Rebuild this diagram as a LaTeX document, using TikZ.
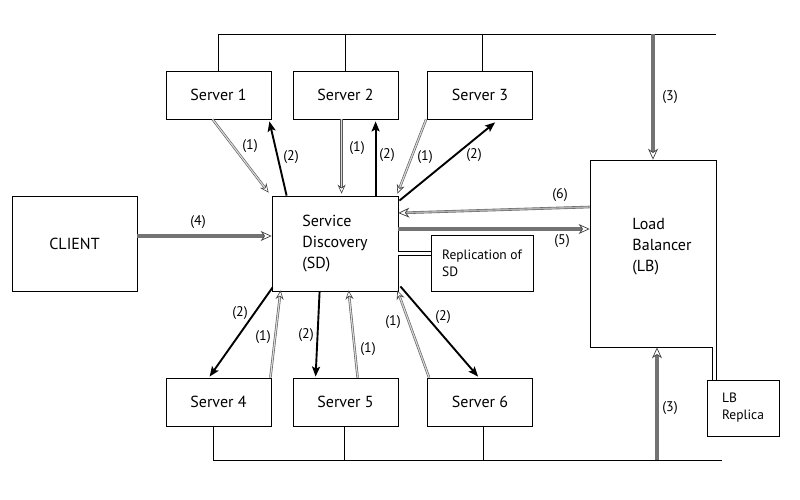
\documentclass[tikz,border=0pt]{standalone}
\usepackage{fontspec}
\setmainfont{PT Sans}
\usetikzlibrary{arrows.meta,calc}
\tikzset{
  box/.style={draw, line width=0.8pt, rectangle, inner sep=0pt, font=\fontsize{16}{21}\selectfont},
  smallbox/.style={draw, line width=0.8pt, rectangle, inner sep=0pt, font=\fontsize{13.5}{17}\selectfont, align=left},
  lbl/.style={font=\fontsize{14}{16}\selectfont, inner sep=0pt},
  wire/.style={line width=0.7pt},
  reqarrow/.style={draw=black!65, double=black!15, double distance=1.2pt, line width=0.6pt,
    -{Stealth[open, length=9pt, width=8pt, inset=3pt, line width=0.6pt, color=black!75]}},
  resparrow/.style={line width=1.9pt, -{Stealth[length=10pt, width=8pt, inset=2pt]}},
  greyarrow/.style={draw=black!55, line width=3.2pt,
    -{Stealth[open, length=11pt, width=10pt, inset=3.5pt, line width=0.7pt, color=black!75]}},
  lbarrow/.style={draw=black!60, double=black!30, double distance=1.4pt, line width=0.6pt,
    -{Stealth[open, length=11pt, width=10pt, inset=3.5pt, line width=0.7pt, color=black!75]}},
  link/.style={line width=0.7pt, double, double distance=3.8pt}
}
\begin{document}
\begin{tikzpicture}[x=1pt, y=-1pt]
\useasboundingbox (0,0) rectangle (800,500);
% nodes
\node[box, minimum width=125pt, minimum height=95pt] (client) at (74.5,243.5) {CLIENT};
\node[box, minimum width=126pt, minimum height=95pt, align=left] (sd) at (335,243.5) {Service\\Discovery\\(SD)};
\node[smallbox, minimum width=102pt, minimum height=56pt] (rep) at (482,263) {Replication of\\SD};
\node[box, minimum width=126pt, minimum height=187pt,
  label={[font=\fontsize{16}{21}\selectfont, align=left, xshift=9pt, yshift=7pt]center:Load\\Balancer\\(LB)}] (lb) at (653,253.5) {};
\node[smallbox, minimum width=72pt, minimum height=56pt] (lbr) at (743,408) {LB\\Replica};
\foreach \n/\x in {1/218.5,2/345.5,3/480}
  \node[box, minimum width=105pt, minimum height=48pt] (s\n) at (\x,95) {Server \n};
\foreach \n/\x in {4/218.5,5/345.5,6/480}
  \node[box, minimum width=105pt, minimum height=48pt] (s\n) at (\x,402) {Server \n};
% bus lines
\coordinate (tr) at (716,34);
\coordinate (br) at (722,460);
\coordinate (t3) at ($(s3.north)+(2,0)$);
\coordinate (b4) at ($(s4.south)+(-5.5,0)$);
\coordinate (b5) at ($(s5.south)+(-1.5,0)$);
\coordinate (b6) at ($(s6.south)+(3,0)$);
\draw[wire] (s1.north) |- (tr);
\draw[wire] (s2.north) -- (s2.north |- tr);
\draw[wire] (t3) -- (t3 |- tr);
\draw[wire] (b4) |- (br);
\draw[wire] (b5) -- (b5 |- br);
\draw[wire] (b6) -- (b6 |- br);
% links
\coordinate (sdl) at ($(sd.east)+(0,10)$);
\coordinate (lbl1) at ($(lb.south east)+(-2,0)$);
\draw[link] (sdl) -- (sdl -| rep.west);
\draw[link] (lbl1) -- (lbl1 |- lbr.north);
% (3)
\coordinate (lbb) at ($(lb.south)+(4,0)$);
\draw[greyarrow] (lb.north |- tr) -- (lb.north);
\draw[greyarrow] (lbb |- br) -- (lbb);
\node[lbl] at (670,97) {(3)};
\node[lbl] at (670,408) {(3)};
% (4)
\draw[greyarrow] ($(client.east)+(0,-7.5)$) -- ($(sd.west)+(0,-7.5)$);
\node[lbl] at (198,222) {(4)};
% (5)
\draw[greyarrow] ($(sd.east)+(0,-14.5)$) -- ($(lb.west)+(0,-24.5)$);
\node[lbl] at (562,241) {(5)};
% (6)
\draw[lbarrow] ($(lb.west)+(0,-46.5)$) -- ($(sd.east)+(0,-30.5)$);
\node[lbl] at (560,195) {(6)};
% server 1
\draw[reqarrow] ($(s1.south west)+(47,0)$) -- ($(sd.north west)+(-3,-3)$);
\draw[resparrow] ($(sd.north west)+(15,0)$) -- ($(s1.south east)+(-2,2)$);
\node[lbl] at (250,146) {(1)};
\node[lbl] at (291,157) {(2)};
% server 2
\draw[reqarrow] ($(s2.south west)+(49,0)$) -- ($(sd.north west)+(70,-2)$);
\draw[resparrow] ($(sd.north west)+(104,0)$) -- ($(s2.south west)+(83,2)$);
\node[lbl] at (357,148) {(1)};
\node[lbl] at (387,155) {(2)};
% server 3
\draw[reqarrow] ($(s3.south west)+(-1,0)$) -- ($(sd.north east)+(-1,-2)$);
\draw[resparrow] ($(sd.north east)+(1,5)$) -- ($(s3.south west)+(68,3)$);
\node[lbl] at (425,157) {(1)};
\node[lbl] at (474,155) {(2)};
% server 4
\draw[resparrow] ($(sd.south west)+(1,-4)$) -- ($(s4.north west)+(44,-1)$);
\draw[reqarrow] ($(s4.north east)+(-1,0)$) -- ($(sd.south west)+(9,-1)$);
\node[lbl] at (240,313) {(2)};
\node[lbl] at (263,337) {(1)};
% server 5
\draw[resparrow] ($(sd.south west)+(48,0)$) -- ($(s5.north west)+(23,-1)$);
\draw[reqarrow] ($(s5.north west)+(65,0)$) -- ($(sd.south west)+(77,-1)$);
\node[lbl] at (306,335) {(2)};
\node[lbl] at (368,349) {(1)};
% server 6
\draw[reqarrow] ($(s6.north west)+(2,0)$) -- ($(sd.south east)+(-1,-1)$);
\draw[resparrow] ($(sd.south east)+(2,-5)$) -- ($(s6.north west)+(51,-1)$);
\node[lbl] at (393,322) {(1)};
\node[lbl] at (443,317) {(2)};
\end{tikzpicture}
\end{document}
